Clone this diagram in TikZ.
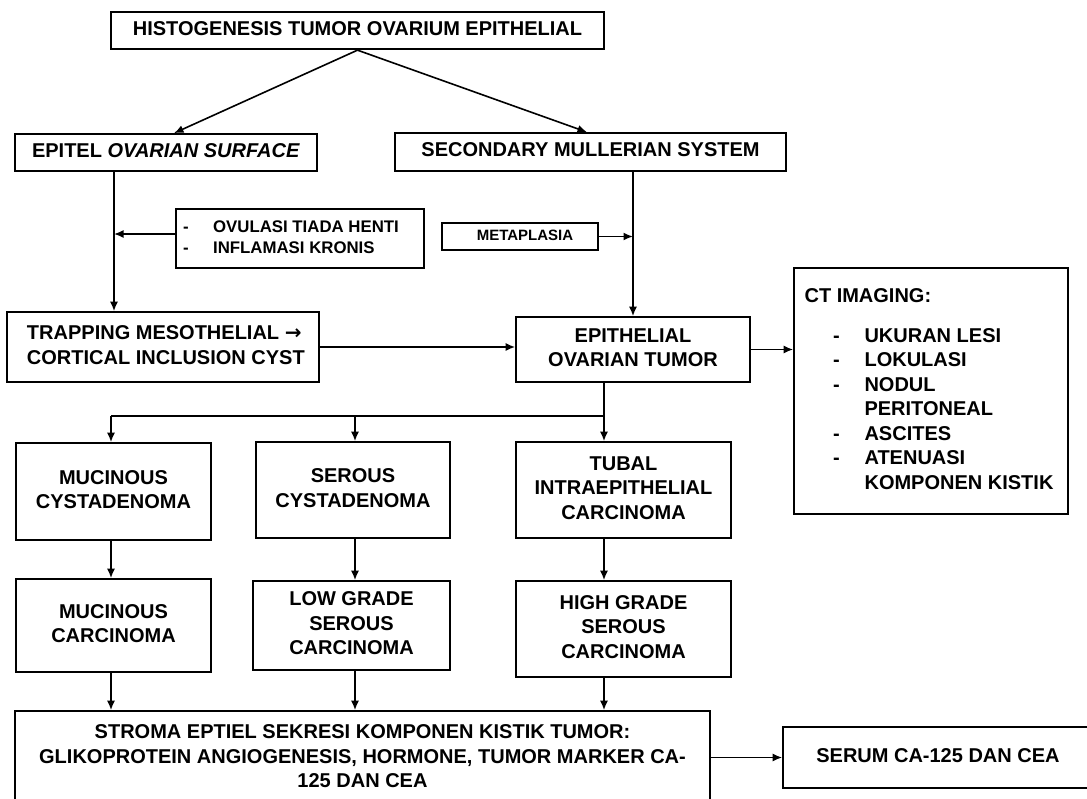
\documentclass[tikz,border=0pt]{standalone}
\usepackage{fontspec}
\setmainfont{Liberation Sans}
\newfontfamily\djv{DejaVu Sans}
\usetikzlibrary{arrows.meta}
\newcommand\liftc[2]{\raisebox{#1}{\begin{tabular}{@{}c@{}}#2\end{tabular}}}
\newcommand\ctitem[1]{\hspace*{28.5pt}\makebox[31.5pt][l]{-}#1}
\begin{document}
\begin{tikzpicture}[x=1pt,y=-1pt,
  font=\fontsize{20}{24.5}\selectfont\bfseries,
  box/.style={draw, line width=1.7pt, inner sep=0pt},
  ln/.style={line width=1.6pt},
  arr/.style={line width=1.6pt, -{Latex[length=9.5pt,width=8pt]}}]
\useasboundingbox (0,0) rectangle (1087,798);

\node[box, minimum width=493, minimum height=37.6] (top) at (357.5,30.5) {\liftc{-3.3pt}{HISTOGENESIS TUMOR OVARIUM EPITHELIAL}};
\node[box, minimum width=302, minimum height=37] (epitel) at (166,152.5) {\liftc{-2.9pt}{EPITEL \textit{OVARIAN SURFACE}}};
\node[box, minimum width=391, minimum height=38] (second) at (590.5,152) {\liftc{-1.8pt}{SECONDARY MULLERIAN SYSTEM}};
\node[box, minimum width=248, minimum height=59, font=\fontsize{16.8}{21}\selectfont\bfseries] (ovul) at (300,238.5)
  {\raisebox{-0.7pt}{\begin{tabular}{@{}l@{\hspace{18pt}}}\makebox[30pt][l]{-}OVULASI TIADA HENTI\\ \makebox[30pt][l]{-}INFLAMASI KRONIS\end{tabular}}};
\node[box, minimum width=156, minimum height=27, font=\fontsize{15}{18}\selectfont\bfseries] (meta) at (520,236.5)
  {\raisebox{-3.5pt}{\begin{tabular}{@{\hspace{10pt}}c@{}}METAPLASIA\end{tabular}}};
\node[box, minimum width=312, minimum height=70] (trap) at (163,347)
  {\raisebox{0.9pt}{\begin{tabular}{@{}l@{}}\makebox[272pt][l]{TRAPPING MESOTHELIAL {\djv\bfseries →}}\\ \makebox[272pt][l]{CORTICAL INCLUSION CYST}\end{tabular}}};
\node[box, minimum width=234, minimum height=65] (epith) at (633,349.5) {\liftc{-2.1pt}{EPITHELIAL\\OVARIAN TUMOR}};
\node[box, minimum width=274, minimum height=246] (ct) at (931,391)
  {\raisebox{-7.6pt}{\begin{tabular}{@{}l@{\hspace{4pt}}}CT IMAGING:\\[15.5pt]
  \ctitem{UKURAN LESI}\\ \ctitem{LOKULASI}\\ \ctitem{NODUL}\\ \hspace*{60pt}PERITONEAL\\
  \ctitem{ASCITES}\\ \ctitem{ATENUASI}\\ \hspace*{60pt}KOMPONEN KISTIK\end{tabular}}};

\node[box, minimum width=195, minimum height=97] (muc1) at (113.5,491.5) {\liftc{3.4pt}{MUCINOUS\\CYSTADENOMA}};
\node[box, minimum width=194, minimum height=96] (ser1) at (353,490) {\liftc{3.9pt}{SEROUS\\CYSTADENOMA}};
\node[box, minimum width=215, minimum height=96] (tub1) at (623.5,490) {\liftc{0.9pt}{TUBAL\\INTRAEPITHELIAL\\CARCINOMA}};
\node[box, minimum width=195, minimum height=93] (muc2) at (113.5,625.5) {\liftc{5.4pt}{MUCINOUS\\CARCINOMA}};
\node[box, minimum width=197, minimum height=89] (low) at (351.5,625.5) {\liftc{-1.6pt}{LOW GRADE\\SEROUS\\CARCINOMA}};
\node[box, minimum width=215, minimum height=96] (high) at (623.5,629) {\liftc{1.9pt}{HIGH GRADE\\SEROUS\\CARCINOMA}};
\node[box, minimum width=695, minimum height=95] (stroma) at (362.5,758.5) {\liftc{1.4pt}{STROMA EPTIEL SEKRESI KOMPONEN KISTIK TUMOR:\\GLIKOPROTEIN ANGIOGENESIS, HORMONE, TUMOR MARKER CA-\\125 DAN CEA}};
\node[box, minimum width=310, minimum height=61] (serum) at (938,757.5) {\liftc{3.4pt}{SERUM CA-125 DAN CEA}};

\coordinate (cL) at (114,0);
\coordinate (c1) at (111,416);
\coordinate (c2) at (355,416);
\coordinate (c3) at (604,416);

\draw[arr] (top.south) -- ([xshift=8pt]epitel.north);
\draw[arr] (top.south) -- ([xshift=-3.5pt]second.north);
\draw[arr] (epitel.south -| cL) -- (trap.north -| cL);
\draw[arr] ([yshift=4.5pt]ovul.west) -- ([yshift=4.5pt]ovul.west -| cL);
\draw[arr] (second.south -| epith.north) -- (epith.north);
\draw[arr] (meta.east) -- (meta.east -| epith.north);
\draw[arr] (trap.east) -- (trap.east -| epith.west);
\draw[arr] (epith.east) -- (epith.east -| ct.west);
\draw[ln] (epith.south -| c3) -- (c3) -- (c1);
\draw[arr] (c1) -- (c1 |- muc1.north);
\draw[arr] (c2) -- (c2 |- ser1.north);
\draw[arr] (c3) -- (c3 |- tub1.north);
\draw[arr] (muc1.south -| c1) -- (muc2.north -| c1);
\draw[arr] (ser1.south -| c2) -- (low.north -| c2);
\draw[arr] (tub1.south -| c3) -- (high.north -| c3);
\draw[arr] (muc2.south -| c1) -- (stroma.north -| c1);
\draw[arr] (low.south -| c2) -- (stroma.north -| c2);
\draw[arr] (high.south -| c3) -- (stroma.north -| c3);
\draw[arr] (stroma.east |- serum.west) -- (serum.west);
\end{tikzpicture}
\end{document}
